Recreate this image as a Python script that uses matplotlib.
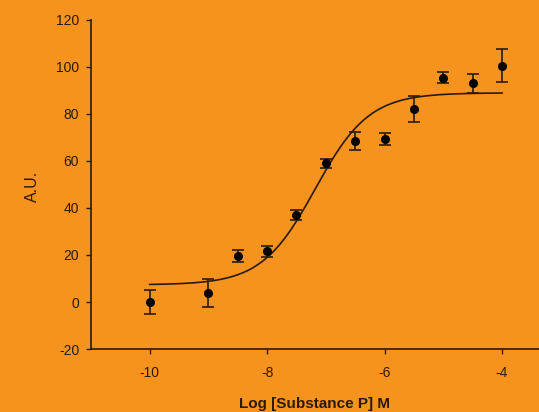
"""Dose-response of Substance P: mean +/- error with a four-parameter logistic fit."""

import matplotlib

matplotlib.use("Agg")
import matplotlib.pyplot as plt
import numpy as np

log_dose = [-10, -9, -8.5, -8, -7.5, -7, -6.5, -6, -5.5, -5, -4.5, -4]
response = [0, 4, 19.5, 21.5, 37, 59, 68.5, 69.5, 82, 95.5, 93, 100.5]
error = [5, 6, 2.5, 2.5, 2, 2, 4, 2.5, 5.5, 2.5, 4, 7]

# fitted logistic parameters
fit_bottom = 7.3
fit_top = 89.0
fit_log_ec50 = -7.18
fit_hill = 0.95
fit_range = (-10, -4)

BG = "#F6931E"
INK = "#2b1a08"


def logistic(x):
    return fit_bottom + (fit_top - fit_bottom) / (1 + 10 ** ((fit_log_ec50 - x) * fit_hill))


def main() -> None:
    plt.rcParams["font.family"] = ["Liberation Sans", "DejaVu Sans"]
    plt.rcParams["axes.unicode_minus"] = False
    fig = plt.figure(figsize=(5.39, 4.12), dpi=100, facecolor=BG)
    ax = fig.add_axes([0.1688, 0.1529, 0.8312, 0.7986], facecolor=BG)

    xs = np.linspace(*fit_range, 300)
    ax.plot(xs, logistic(xs), color=INK, linewidth=1.2)
    ax.errorbar(
        log_dose, response, yerr=error, fmt="o", color="black", ecolor=INK,
        markersize=5.5, elinewidth=1.2, capsize=4, capthick=1.2,
    )

    ax.set_xlim(-11.0, -3.37)
    ax.set_ylim(-20, 120)
    ax.set_xticks([-10, -8, -6, -4])
    ax.set_yticks(range(-20, 121, 20))
    ax.spines[["top", "right"]].set_visible(False)
    for side in ["left", "bottom"]:
        ax.spines[side].set_color(INK)
        ax.spines[side].set_linewidth(1.2)
    ax.tick_params(colors=INK, labelsize=10, length=3.5, width=1)
    ax.tick_params(axis="x", pad=9)
    ax.tick_params(axis="y", pad=5)

    ax.set_xlabel("Log [Substance P] M", fontsize=11, fontweight="bold", color=INK, labelpad=12)
    fig.text(32 / 539, 1 - 186 / 412, "A.U.", rotation=90, fontsize=11.5, color=INK,
             ha="center", va="center")

    fig.savefig("out.png", dpi=100, facecolor=BG)
    plt.close(fig)


if __name__ == "__main__":
    main()
